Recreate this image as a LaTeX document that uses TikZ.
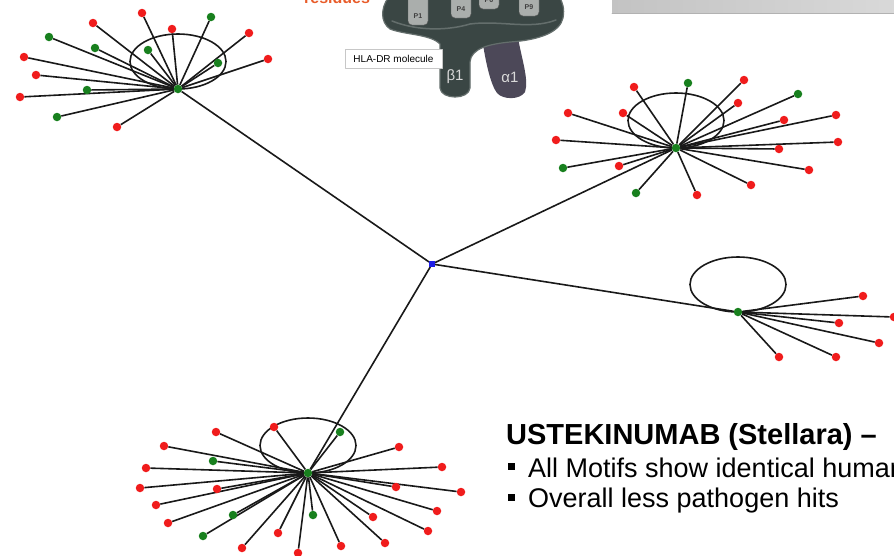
\documentclass[tikz,border=0pt]{standalone}
\usepackage{fontspec}
\setmainfont{Liberation Sans}
\usetikzlibrary{backgrounds}
\definecolor{hitred}{RGB}{240,28,28}
\definecolor{hitgreen}{RGB}{24,128,30}
\definecolor{hubblue}{RGB}{30,30,230}
\definecolor{slate}{RGB}{58,70,68}
\definecolor{slaterim}{RGB}{100,110,108}
\definecolor{chainalpha}{RGB}{76,72,88}
\definecolor{pegrey}{RGB}{170,174,172}
\definecolor{resorange}{RGB}{232,92,42}
\begin{document}
\begin{tikzpicture}[x=1pt,y=-1pt,line join=round,line cap=round,
 leaf/.style={circle,inner sep=0pt,minimum size=8.5pt},
 hub/.style={circle,fill=hitgreen,inner sep=0pt,minimum size=8.5pt},
 core/.style={fill=hubblue,inner sep=0pt,minimum size=5.5pt},
 edge/.style={line width=1.6pt,black!90},
 txt/.style={anchor=base west,inner sep=0pt}]
 \useasboundingbox (0,0) rectangle (894,555);
 \clip (0,0) rectangle (894,555);

 % header bar and molecule sketch
 \shade[left color=gray!47,right color=gray!30] (612,-1) rectangle (895,13);
 \draw[gray!60,line width=.8pt] (612,13) -- (895,13);
 \node[txt,text=resorange,font=\fontsize{16}{18}\selectfont\bfseries] (resid) at (304,3) {residues};
 \fill[chainalpha] (482,38) .. controls (486,65) and (491,85) .. (497,93)
  .. controls (503,100) and (520,100) .. (525,92) .. controls (529,80) and (522,60) .. (518,38) -- cycle;
 \filldraw[fill=slate,draw=slaterim,line width=1.2pt] (388,-2) .. controls (381,8) and (380,22) .. (390,29)
  .. controls (405,35) and (430,34) .. (440,44) -- (440,88) .. controls (441,100) and (469,100) .. (470,88)
  -- (470,62) .. controls (471,48) and (490,44) .. (510,42) .. controls (540,40) and (560,32) .. (563,18)
  .. controls (565,8) and (562,2) .. (560,-2) -- cycle;
 \draw[slaterim,line width=1.5pt] (392,21) .. controls (420,32) and (450,30) .. (470,24)
  .. controls (500,20) and (530,30) .. (556,20);
 \foreach \px/\py/\lab in {418/25/P1,461/18/P4,489/9/P6,529/16/P9}{
  \filldraw[fill=pegrey,draw=gray!70!black,rounded corners=4pt] (\px-10,-8) rectangle (\px+10,\py);
  \node[font=\fontsize{7}{8}\selectfont\bfseries,text=black!75,inner sep=0pt] (peg\lab) at (\px,\py-9) {\lab};
 }
 \node[text=white!85!black,font=\fontsize{15}{17}\selectfont] (beta) at (455,77) {β1};
 \node[text=white!85!black,font=\fontsize{15}{17}\selectfont] (alpha) at (510,77) {α1};
 \node[draw=black!22,fill=white,font=\fontsize{10}{12}\selectfont,minimum width=97pt,minimum height=19pt,inner sep=1pt] (hla) at (393.5,58.5) {HLA-DR molecule};

 % network: core and four hubs
 \node[core] (c) at (432,264) {};
 \node[hub] (hA) at (178,89) {};
 \node[hub] (hB) at (676,148) {};
 \node[hub] (hC) at (738,312) {};
 \node[hub] (hD) at (308,473) {};
 \begin{scope}[on background layer]
  \foreach \h in {hA,hB,hC,hD}{
   \draw[edge] (c) -- (\h);
   \draw[edge] (\h.center) ++(0,-27.5) ellipse [x radius=48pt,y radius=27.5pt];
  }
 \end{scope}

 % leaves
 \foreach \x/\y/\c [count=\i] in {142/13/hitred,93/23/hitred,49/37/hitgreen,95/48/hitgreen,
   24/57/hitred,36/75/hitred,20/97/hitred,87/90/hitgreen,57/117/hitgreen,117/127/hitred,
   172/29/hitred,148/50/hitgreen,211/17/hitgreen,249/33/hitred,218/63/hitgreen,268/59/hitred}{
  \node[leaf,fill=\c] (a\i) at (\x,\y) {};
  \begin{pgfonlayer}{background}\draw[edge] (hA) -- (a\i);\end{pgfonlayer}
 }
 \foreach \x/\y/\c [count=\i] in {634/87/hitred,688/83/hitgreen,744/80/hitred,738/103/hitred,
   798/94/hitgreen,623/113/hitred,568/113/hitred,784/120/hitred,836/115/hitred,556/140/hitred,
   838/142/hitred,779/149/hitred,563/168/hitgreen,619/166/hitred,809/170/hitred,751/185/hitred,
   636/193/hitgreen,697/195/hitred}{
  \node[leaf,fill=\c] (b\i) at (\x,\y) {};
  \begin{pgfonlayer}{background}\draw[edge] (hB) -- (b\i);\end{pgfonlayer}
 }
 \foreach \x/\y [count=\i] in {863/296,894/317,839/323,879/343,836/357,779/357}{
  \node[leaf,fill=hitred] (cc\i) at (\x,\y) {};
  \begin{pgfonlayer}{background}\draw[edge] (hC) -- (cc\i);\end{pgfonlayer}
 }
 \foreach \x/\y/\c [count=\i] in {274/427/hitred,340/432/hitgreen,216/432/hitred,164/446/hitred,
   399/447/hitred,213/461/hitgreen,146/468/hitred,442/467/hitred,140/488/hitred,217/489/hitred,
   396/487/hitred,461/492/hitred,156/505/hitred,437/511/hitred,233/515/hitgreen,313/515/hitgreen,
   168/523/hitred,373/517/hitred,428/531/hitred,203/536/hitgreen,278/533/hitred,242/548/hitred,
   341/546/hitred,385/543/hitred,298/553/hitred}{
  \node[leaf,fill=\c] (d\i) at (\x,\y) {};
  \begin{pgfonlayer}{background}\draw[edge] (hD) -- (d\i);\end{pgfonlayer}
 }

 % slide text
 \node[txt,font=\fontsize{29}{31}\selectfont\bfseries] (title) at (506,444) {USTEKINUMAB (Stellara) –};
 \node[fill=black,inner sep=0pt,minimum size=7pt] (bul1) at (511.5,466.5) {};
 \node[fill=black,inner sep=0pt,minimum size=7pt] (bul2) at (511.5,497) {};
 \node[txt,font=\fontsize{27}{29}\selectfont] (pt1) at (528,477.5) {All Motifs show identical human};
 \node[txt,font=\fontsize{27}{29}\selectfont] (pt2) at (528,507.5) {Overall less pathogen hits};
\end{tikzpicture}
\end{document}
